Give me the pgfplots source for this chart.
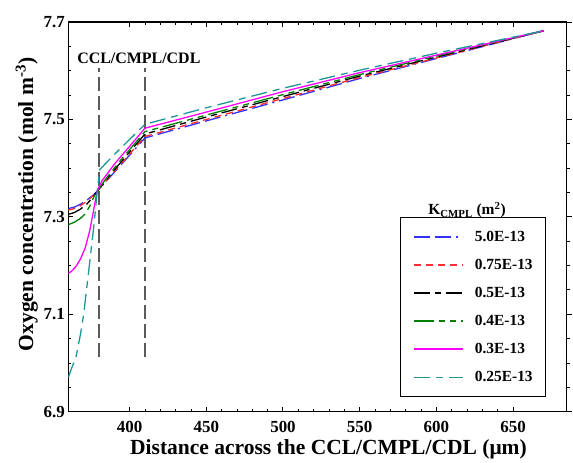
\documentclass[border=0pt]{standalone}
\usepackage{fontspec}
\setmainfont{Liberation Serif}
\usepackage{pgfplots}
\pgfplotsset{compat=1.18}
\definecolor{cblue}{RGB}{50,50,255}
\definecolor{cred}{RGB}{255,45,45}
\definecolor{cgreen}{RGB}{0,128,0}
\definecolor{cmag}{RGB}{255,0,255}
\definecolor{cteal}{RGB}{30,150,150}
\definecolor{vgray}{RGB}{90,90,90}
\begin{document}
\begin{tikzpicture}
\pgfplotsset{
  common/.style={
    at={(68.3bp,51.3bp)}, anchor=south west,
    scale only axis, width=498.4bp, height=389.7bp,
    xmin=360, xmax=685, ymin=6.9, ymax=7.7,
    xtick={400,450,...,650}, minor x tick num=4,
    ytick={6.9,7.1,7.3,7.5,7.7}, minor y tick num=3,
    major tick length=5bp, minor tick length=3bp,
    every tick/.style={black, line width=1bp},
    every minor tick/.style={black, line width=0.9bp},
  }
}
\begin{axis}[common,
  ytick pos=right, tick align=outside, yticklabels={}, xtick=\empty,
  axis line style={draw=none}]
\end{axis}
\begin{axis}[common,
  ytick pos=left, xtick pos=both, tick align=inside,
  axis line style={line width=1.2bp},
  /pgf/number format/assume math mode=true,
  /pgf/number format/.cd, fixed, fixed zerofill, precision=1, /pgfplots/.cd,
  xticklabel style={/pgf/number format/precision=0, /pgf/number format/fixed zerofill=false, yshift=-6bp},
  ticklabel style={font=\fontsize{17}{17}\selectfont\bfseries},
  xlabel={Distance across the CCL/CMPL/CDL (μm)},
  ylabel={Oxygen concentration (mol m\textsuperscript{-3})},
  label style={font=\fontsize{21.6}{22}\selectfont\bfseries},
  xlabel style={at={(axis description cs:0.522,-0.111)}, anchor=base},
  ylabel style={at={(axis description cs:-0.0708,0.532)}, anchor=base},
  legend image code/.code={\draw[#1] (0bp,0bp) -- (49bp,0bp);},
  legend style={at={(rel axis cs:0.6655,0.4996)}, anchor=north west,
    draw=black, line width=1bp, fill=white,
    font=\fontsize{15.5}{18}\selectfont\bfseries,
    inner xsep=13bp, inner ysep=13.5bp, row sep=16.3bp, column sep=11bp,
    nodes={inner sep=0pt}, cells={anchor=west}},
  legend cell align=left,
]
\addplot[vgray, line width=1.5bp, dash pattern=on 14bp off 5bp, forget plot] coordinates {(380,7.013) (380,7.606)};
\addplot[vgray, line width=1.5bp, dash pattern=on 14bp off 5bp, forget plot] coordinates {(410,7.013) (410,7.606)};

\addplot[cblue, line width=1.3bp, dash pattern=on 16bp off 5bp on 16bp off 5bp on 2bp off 5bp] coordinates {
(360,7.317)(364,7.320)(368,7.326)(372,7.334)(376,7.344)(379,7.353)(385,7.374)(395,7.409)(410,7.462)
(450,7.497)(500,7.540)(550,7.584)(600,7.625)(670,7.682)};
\addlegendentry{5.0E-13}
\addplot[cred, line width=1.3bp, dash pattern=on 7bp off 5bp] coordinates {
(360,7.314)(364,7.317)(368,7.323)(372,7.332)(376,7.343)(379,7.353)(385,7.375)(395,7.411)(410,7.465)
(450,7.500)(500,7.543)(550,7.586)(600,7.626)(670,7.682)};
\addlegendentry{0.75E-13}
\addplot[black, line width=1.3bp, dash pattern=on 16bp off 5bp on 6bp off 5bp] coordinates {
(360,7.305)(364,7.309)(368,7.316)(372,7.326)(376,7.340)(379,7.353)(385,7.377)(395,7.415)(410,7.470)
(450,7.505)(500,7.547)(550,7.589)(600,7.628)(670,7.682)};
\addlegendentry{0.5E-13}
\addplot[cgreen, line width=1.3bp, dash pattern=on 20bp off 5bp on 6bp off 5bp on 6bp off 5bp] coordinates {
(360,7.284)(364,7.289)(368,7.297)(371,7.306)(374,7.322)(377,7.343)(379,7.354)(385,7.380)(395,7.420)(410,7.475)
(450,7.509)(500,7.551)(550,7.592)(600,7.630)(670,7.682)};
\addlegendentry{0.4E-13}
\addplot[cmag, line width=1.3bp] coordinates {
(360,7.184)(362,7.188)(365,7.198)(368,7.214)(371,7.236)(374,7.272)(376,7.305)(377.8,7.336)(379,7.355)(382,7.374)(390,7.408)(400,7.445)(410,7.482)
(450,7.515)(500,7.557)(550,7.596)(600,7.632)(670,7.682)};
\addlegendentry{0.3E-13}
\addplot[cteal, line width=1.3bp, dash pattern=on 16bp off 6bp on 7bp off 6bp] coordinates {
(360,6.970)(362,6.988)(365,7.012)(368,7.060)(370,7.100)(373,7.180)(376.6,7.280)(378.8,7.350)(380.5,7.397)(390,7.428)(400,7.459)(410,7.490)
(450,7.524)(500,7.564)(550,7.601)(600,7.636)(670,7.682)};
\addlegendentry{0.25E-13}

\node[anchor=base, font=\fontsize{16}{16}\selectfont\bfseries] at (axis cs:406,7.615) {CCL/CMPL/CDL};
\node[anchor=base, font=\fontsize{15.5}{16}\selectfont\bfseries] at (axis cs:620,7.304) {K\textsubscript{CMPL} (m\textsuperscript{2})};
\end{axis}
\pgfresetboundingbox
\path (0,0) rectangle (573bp,463bp);
\end{tikzpicture}
\end{document}
